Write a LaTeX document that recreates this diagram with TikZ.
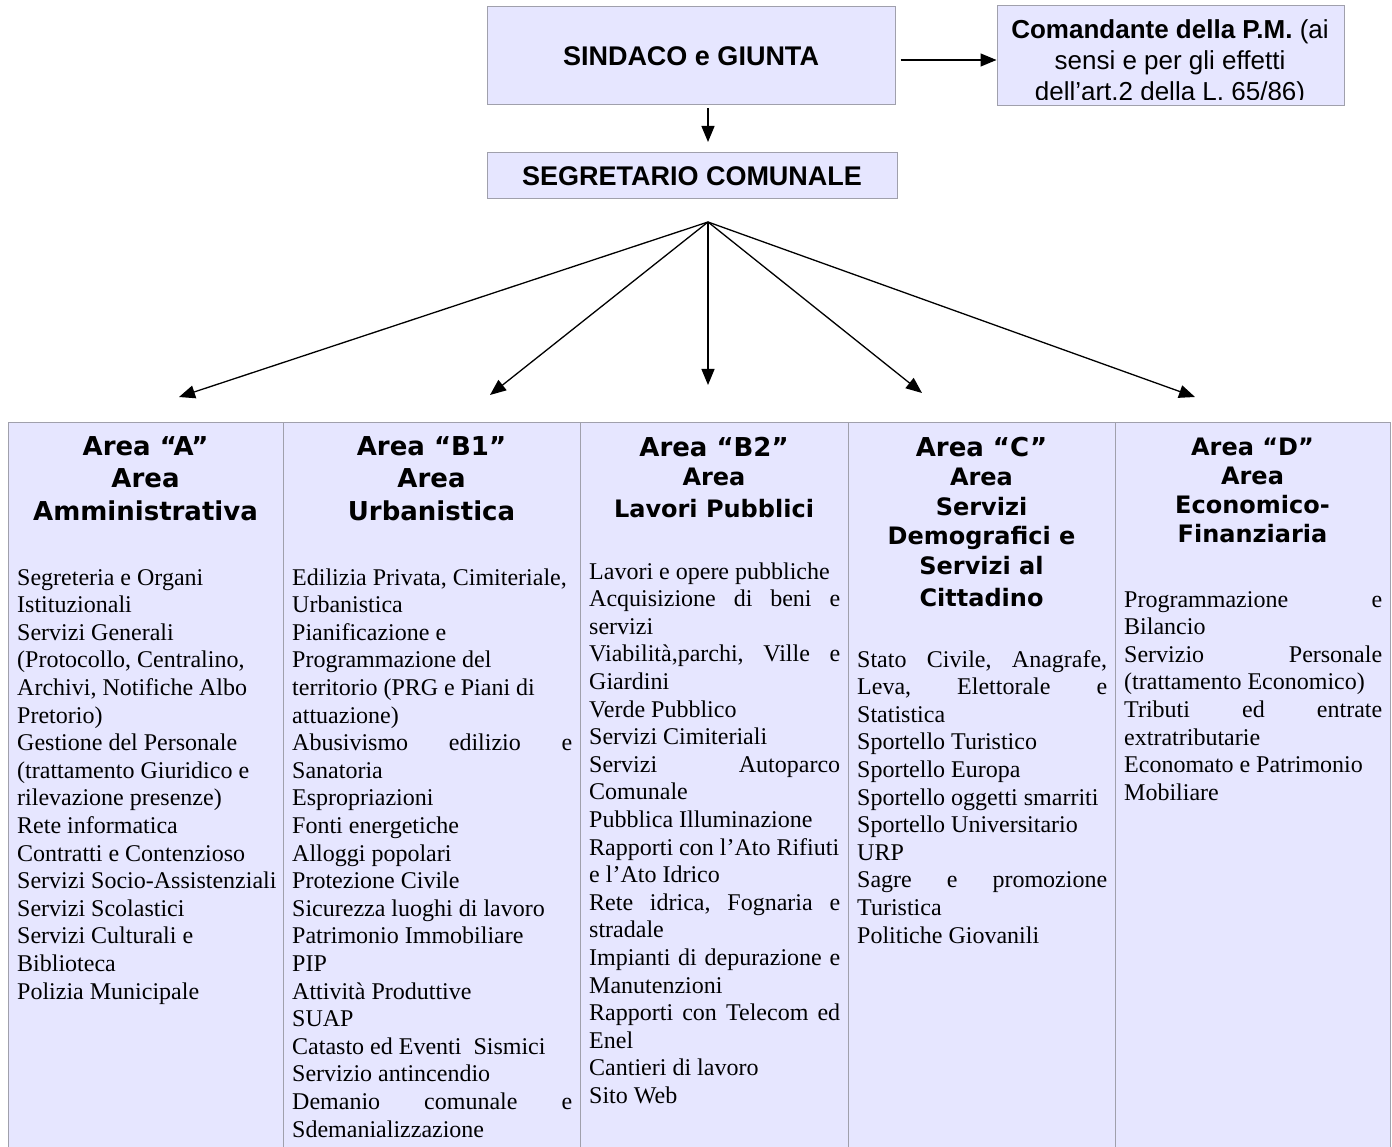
\documentclass[tikz,border=0pt]{standalone}
\usepackage{fontspec}
\setmainfont{Liberation Serif}
\setsansfont{Liberation Sans}
\newfontfamily\headfont{DejaVu Sans}
\usetikzlibrary{arrows.meta,calc}
\definecolor{cellfill}{RGB}{230,230,255}
\definecolor{cellline}{RGB}{160,160,172}
\def\fullline#1#2{\leavevmode\hbox to #1{#2}}

\begin{document}
\begin{tikzpicture}[x=1pt, y=-1pt,
    box/.style={draw=cellline, fill=cellfill, line width=1pt, inner sep=0pt,
      font=\sffamily\bfseries\fontsize{27}{30}\selectfont},
    arr/.style={-{Triangle[length=16pt,width=13pt]}, line width=1.3pt},
    head/.style={anchor=base, align=flush center, inner sep=0pt,
      font=\headfont\bfseries\fontsize{26}{32.5}\selectfont},
    body/.style={anchor=base west, align=flush left, inner sep=0pt, text width=300pt,
      font=\fontsize{24}{27.6}\selectfont}]

    \useasboundingbox (0,0) rectangle (1392,1147);

    %%%%% TOP %%%%%

    \node[box, minimum width=408pt, minimum height=98pt] (sindaco) at (691,56) {SINDACO e GIUNTA};
    \node[box, minimum width=347pt, minimum height=100pt] (coman) at (1170.5,56) {};
    \begin{scope}
        \clip (coman.north west) rectangle ([yshift=6.5pt]coman.south east);
        \node[anchor=base, align=flush center, inner sep=0pt, text width=340pt,
          font=\sffamily\fontsize{26}{31}\selectfont] (comantext) at (1170,39)
          {\textbf{Comandante della P.M.} (ai\\sensi e per gli effetti\\dell’art.2 della L. 65/86)};
    \end{scope}
    \draw[arr] ([xshift=5pt,yshift=-4pt]sindaco.east) -- ([yshift=-4pt]coman.west);

    \node[box, minimum width=410pt, minimum height=46pt] (segr) at (692,176) {SEGRETARIO COMUNALE};
    \coordinate (segtop) at (708,142);
    \draw[arr] ($(sindaco.south -| segtop)+(0,3)$) -- (segtop);

    %%%%% ARROWS TO THE AREAS %%%%%

    \coordinate (hub) at (708,222);
    \coordinate (tipA) at (179,397);
    \coordinate (tipB1) at (490,395);
    \coordinate (tipB2) at (708,385);
    \coordinate (tipC) at (922,393);
    \coordinate (tipD) at (1195,397);
    \foreach \t in {tipA,tipB1,tipB2,tipC,tipD}
        \draw[arr] (hub) -- (\t);

    %%%%% AREAS %%%%%

    \foreach \xa/\xb in {8/283, 283/580, 580/848, 848/1115, 1115/1390}
        \draw[draw=cellline, fill=cellfill, line width=1pt] (\xa,422) rectangle (\xb,1160);

    \node[head, text width=258pt] (headA) at (145.5,455) {Area “A”\\Area\\Amministrativa};
    \node[head, text width=280pt] (headB1) at (431.5,455) {Area “B1”\\Area\\Urbanistica};
    \node[head, text width=251pt] (headB2) at (714,456)
        {Area “B2”\\\fontsize{24}{29}\selectfont Area\\Lavori Pubblici};
    \node[head, text width=250pt] (headC) at (981.5,456)
        {Area “C”\\\fontsize{24}{29.5}\selectfont Area\\Servizi\\Demografici e\\Servizi al\\Cittadino};
    \node[head, text width=258pt, font=\headfont\bfseries\fontsize{24}{29}\selectfont] (headD) at (1252.5,455)
        {Area “D”\\Area\\Economico-\\Finanziaria};

    \node[body] (listA) at (17,585) {%
        Segreteria e Organi\\
        Istituzionali\\
        Servizi Generali\\
        (Protocollo, Centralino,\\
        Archivi, Notifiche Albo\\
        Pretorio)\\
        Gestione del Personale\\
        (trattamento Giuridico e\\
        rilevazione presenze)\\
        Rete informatica\\
        Contratti e Contenzioso\\
        Servizi Socio-Assistenziali\\
        Servizi Scolastici\\
        Servizi Culturali e\\
        Biblioteca\\
        Polizia Municipale};

    \node[body] (listB1) at (292,585) {%
        Edilizia Privata, Cimiteriale,\\
        Urbanistica\\
        Pianificazione e\\
        Programmazione del\\
        territorio (PRG e Piani di\\
        attuazione)\\
        \fullline{280pt}{Abusivismo\hfill edilizio\hfill e}\\
        Sanatoria\\
        Espropriazioni\\
        Fonti energetiche\\
        Alloggi popolari\\
        Protezione Civile\\
        Sicurezza luoghi di lavoro\\
        Patrimonio Immobiliare\\
        PIP\\
        Attività Produttive\\
        SUAP\\
        Catasto ed Eventi\ \ Sismici\\
        Servizio antincendio\\
        \fullline{280pt}{Demanio\hfill comunale\hfill e}\\
        Sdemanializzazione};

    \node[body] (listB2) at (589,579) {%
        Lavori e opere pubbliche\\
        \fullline{251pt}{Acquisizione\hfill di\hfill beni\hfill e}\\
        servizi\\
        \fullline{251pt}{Viabilità,parchi,\hfill Ville\hfill e}\\
        Giardini\\
        Verde Pubblico\\
        Servizi Cimiteriali\\
        \fullline{251pt}{Servizi\hfill Autoparco}\\
        Comunale\\
        Pubblica Illuminazione\\
        Rapporti con l’Ato Rifiuti\\
        e l’Ato Idrico\\
        \fullline{251pt}{Rete\hfill idrica,\hfill Fognaria\hfill e}\\
        stradale\\
        \fullline{251pt}{Impianti\hfill di\hfill depurazione\hfill e}\\
        Manutenzioni\\
        \fullline{251pt}{Rapporti\hfill con\hfill Telecom\hfill ed}\\
        Enel\\
        Cantieri di lavoro\\
        Sito Web};

    \node[body] (listC) at (857,667) {%
        \fullline{250pt}{Stato\hfill Civile,\hfill Anagrafe,}\\
        \fullline{250pt}{Leva,\hfill Elettorale\hfill e}\\
        Statistica\\
        Sportello Turistico\\
        Sportello Europa\\
        Sportello oggetti smarriti\\
        Sportello Universitario\\
        URP\\
        \fullline{250pt}{Sagre\hfill e\hfill promozione}\\
        Turistica\\
        Politiche Giovanili};

    \node[body] (listD) at (1124,607) {%
        \fullline{258pt}{Programmazione\hfill e}\\
        Bilancio\\
        \fullline{258pt}{Servizio\hfill Personale}\\
        (trattamento Economico)\\
        \fullline{258pt}{Tributi\hfill ed\hfill entrate}\\
        extratributarie\\
        Economato e Patrimonio\\
        Mobiliare};

\end{tikzpicture}
\end{document}
